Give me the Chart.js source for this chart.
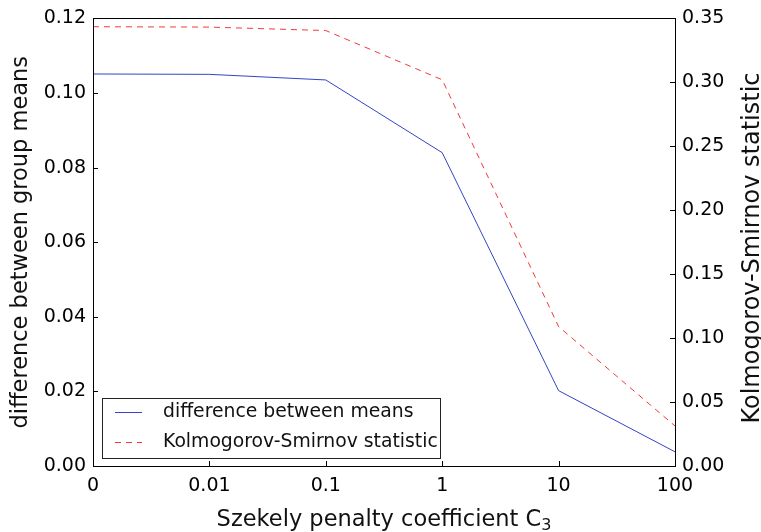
<!DOCTYPE html>
<html>
<head>
<meta charset="utf-8">
<script src="https://cdn.jsdelivr.net/npm/chart.js@4"></script>
<style>
  html, body { margin: 0; padding: 0; background: #ffffff; }
  #wrap { width: 761px; height: 532px; }
</style>
</head>
<body>
<div id="wrap"><canvas id="grafico" width="761" height="532"></canvas></div>
<script>
// datos
const coeficientes = ['0', '0.01', '0.1', '1', '10', '100'];
const diferenciaMedias = [0.1051, 0.1050, 0.1035, 0.0840, 0.0202, 0.0038];
const estadisticoKS = [0.3435, 0.3432, 0.3405, 0.3020, 0.1090, 0.0313];
const ticksIzq = [0, 0.02, 0.04, 0.06, 0.08, 0.10, 0.12];
const ticksDer = [0, 0.05, 0.10, 0.15, 0.20, 0.25, 0.30, 0.35];

const fuente = 'DejaVu Sans';
const colores = {
  azul: '#3344c4',
  rojo: '#f23a3a',
  negro: '#000000'
};

// marcas hacia adentro, marco completo, titulos y leyenda dentro del area
const marcoPlugin = {
  id: 'marco',
  afterDraw(chart) {
    const ctx = chart.ctx;
    const a = chart.chartArea;
    ctx.save();
    ctx.strokeStyle = colores.negro;
    ctx.lineWidth = 1;
    ctx.strokeRect(Math.round(a.left) + 0.5, Math.round(a.top) + 0.5,
      Math.round(a.right - a.left), Math.round(a.bottom - a.top));

    const largo = 5;
    ctx.beginPath();
    chart.scales.x.ticks.forEach((t, i) => {
      const px = Math.round(chart.scales.x.getPixelForTick(i)) + 0.5;
      ctx.moveTo(px, a.bottom);
      ctx.lineTo(px, a.bottom - largo);
    });
    chart.scales.y.ticks.forEach((t, i) => {
      const py = Math.round(chart.scales.y.getPixelForTick(i)) + 0.5;
      ctx.moveTo(a.left, py);
      ctx.lineTo(a.left + largo, py);
    });
    chart.scales.y1.ticks.forEach((t, i) => {
      const py = Math.round(chart.scales.y1.getPixelForTick(i)) + 0.5;
      ctx.moveTo(a.right, py);
      ctx.lineTo(a.right - largo, py);
    });
    ctx.stroke();

    // titulos de los ejes
    ctx.fillStyle = '#111111';
    ctx.textBaseline = 'alphabetic';
    const centroX = (a.left + a.right) / 2;
    const centroY = (a.top + a.bottom) / 2;

    ctx.font = '22.5px "' + fuente + '"';
    const base = 'Szekely penalty coefficient C';
    const anchoBase = ctx.measureText(base).width;
    ctx.font = '16px "' + fuente + '"';
    const anchoSub = ctx.measureText('3').width;
    let x0 = centroX - (anchoBase + anchoSub) / 2;
    ctx.textAlign = 'left';
    ctx.font = '22.5px "' + fuente + '"';
    ctx.fillText(base, x0, 526);
    ctx.font = '16px "' + fuente + '"';
    ctx.fillText('3', x0 + anchoBase, 530);

    ctx.textAlign = 'center';
    ctx.save();
    ctx.translate(27, centroY);
    ctx.rotate(-Math.PI / 2);
    ctx.font = '22.5px "' + fuente + '"';
    ctx.fillText('difference between group means', 0, 0);
    ctx.restore();

    ctx.save();
    ctx.translate(759, 248);
    ctx.rotate(-Math.PI / 2);
    ctx.font = '24px "' + fuente + '"';
    ctx.fillText('Kolmogorov-Smirnov statistic', 0, 0);
    ctx.restore();

    // leyenda
    const lx = 102, ly = 398, lw = 338, lh = 60;
    ctx.fillStyle = '#ffffff';
    ctx.fillRect(lx, ly, lw, lh);
    ctx.strokeStyle = '#222222';
    ctx.strokeRect(lx + 0.5, ly + 0.5, lw, lh);
    ctx.font = '18.8px "' + fuente + '"';
    ctx.textBaseline = 'middle';
    ctx.textAlign = 'left';
    chart.data.datasets.forEach((ds, i) => {
      const y = ly + 14.5 + i * 30;
      ctx.beginPath();
      ctx.strokeStyle = ds.borderColor;
      ctx.lineWidth = 1;
      ctx.setLineDash(ds.borderDash || []);
      ctx.moveTo(115, y);
      ctx.lineTo(142, y);
      ctx.stroke();
      ctx.setLineDash([]);
      ctx.fillStyle = '#111111';
      ctx.fillText(ds.label, 163, y);
    });
    ctx.restore();
  }
};

const ctx = document.getElementById('grafico').getContext('2d');
new Chart(ctx, {
  type: 'line',
  data: {
    labels: coeficientes,
    datasets: [{
      label: 'difference between means',
      data: diferenciaMedias,
      yAxisID: 'y',
      borderColor: colores.azul,
      borderWidth: 1,
      pointRadius: 0,
      tension: 0,
      fill: false
    }, {
      label: 'Kolmogorov-Smirnov statistic',
      data: estadisticoKS,
      yAxisID: 'y1',
      borderColor: colores.rojo,
      borderWidth: 1,
      borderDash: [6, 5],
      pointRadius: 0,
      tension: 0,
      fill: false
    }]
  },
  options: {
    responsive: false,
    animation: false,
    devicePixelRatio: 1,
    layout: { padding: { top: 16, left: 0, right: 0, bottom: 0 } },
    plugins: {
      legend: { display: false },
      tooltip: { enabled: false }
    },
    scales: {
      x: {
        offset: false,
        grid: { display: false, drawTicks: false },
        border: { display: false },
        ticks: {
          color: colores.negro,
          padding: 9,
          maxRotation: 0,
          autoSkip: false,
          font: { family: fuente, size: 19 }
        },
        afterFit(scale) { scale.height = 66; }
      },
      y: {
        position: 'left',
        min: 0,
        max: 0.12,
        afterBuildTicks(scale) { scale.ticks = ticksIzq.map(v => ({ value: v })); },
        grid: { display: false, drawTicks: false },
        border: { display: false },
        ticks: {
          color: colores.negro,
          padding: 7,
          font: { family: fuente, size: 19 },
          callback: v => v.toFixed(2)
        },
        afterFit(scale) { scale.width = 93; }
      },
      y1: {
        position: 'right',
        min: 0,
        max: 0.35,
        afterBuildTicks(scale) { scale.ticks = ticksDer.map(v => ({ value: v })); },
        grid: { display: false, drawTicks: false },
        border: { display: false },
        ticks: {
          color: colores.negro,
          padding: 7,
          font: { family: fuente, size: 19 },
          callback: v => v.toFixed(2)
        },
        afterFit(scale) { scale.width = 86; }
      }
    }
  },
  plugins: [marcoPlugin]
});
</script>
</body>
</html>
